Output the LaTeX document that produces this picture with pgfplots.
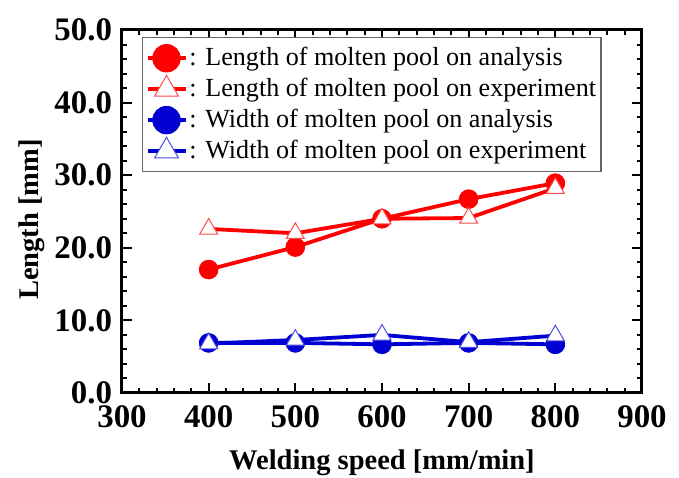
\documentclass[border=0pt]{standalone}
\usepackage{pgfplots}
\pgfplotsset{compat=1.18}
\usepackage{fontspec}
\setmainfont{Liberation Serif}
\usetikzlibrary{calc}
\definecolor{myred}{RGB}{255,0,0}
\definecolor{myblue}{RGB}{0,0,210}
\pgfplotstableread{
x la le wa we
400 17.0 22.6 6.9 6.8
500 20.1 22.0 6.9 7.3
600 24.0 24.0 6.7 8.0
700 26.7 24.1 6.9 7.0
800 28.9 28.2 6.7 7.9
}\data
\begin{document}
\begin{tikzpicture}
\begin{axis}[
  name=ax,
  scale only axis,
  width=260bp, height=181.5bp,
  xmin=300, xmax=900, ymin=0, ymax=50,
  xtick={300,400,...,900}, ytick={0,10,...,50},
  minor x tick num=4, minor y tick num=4,
  tick align=inside,
  major tick length=5bp, minor tick length=2.5bp,
  every tick/.style={black, line width=1bp},
  axis line style={line width=1.5bp},
  xticklabel style={font=\fontsize{16.5}{18}\selectfont\bfseries, yshift=-3bp},
  yticklabel style={font=\fontsize{16.5}{18}\selectfont\bfseries, xshift=-1.5bp},
  /pgf/number format/assume math mode=true,
  yticklabel={\pgfmathprintnumber[fixed,fixed zerofill,precision=1]{\tick}},
  xticklabel={\pgfmathprintnumber[fixed,precision=0]{\tick}},
  xlabel={Welding speed [mm/min]},
  ylabel={Length [mm]},
  xlabel style={font=\fontsize{14.3}{16}\selectfont\bfseries, yshift=-4bp},
  ylabel style={font=\fontsize{14.3}{16}\selectfont\bfseries, yshift=-2bp, xshift=-4bp},
  legend style={at={(0.0385,0.9807)}, anchor=north west, draw=black!60, line width=0.6bp,
    font=\fontsize{13.1}{15.5}\selectfont, row sep=0.8bp, inner xsep=1.5bp, inner ysep=3bp,
    nodes={inner xsep=1bp}},
  legend cell align=left,
  legend image code/.code={\draw[#1, mark repeat=2, mark phase=2, mark size=6.9bp]
    plot coordinates {(0bp,0bp) (9.5bp,0bp) (19bp,0bp)};},
]
\addplot[myred, line width=1.9bp, mark=*, mark size=4.7bp, mark options={solid, fill=myred, draw=myred, line width=0.4bp}] table[x=x,y=la]{\data};
\addlegendentry{: Length of molten pool on analysis}
\addplot[myred, line width=1.9bp, mark=triangle*, mark size=5.2bp, mark options={solid, fill=white, draw=myred!70, line width=0.5bp}] table[x=x,y=le]{\data};
\addlegendentry{: Length of molten pool on experiment}
\addplot[myblue, line width=1.9bp, mark=*, mark size=4.7bp, mark options={solid, fill=myblue, draw=myblue, line width=0.4bp}] table[x=x,y=wa]{\data};
\addlegendentry{: Width of molten pool on analysis}
\addplot[myblue, line width=1.9bp, mark=triangle*, mark size=5.2bp, mark options={solid, fill=white, draw=myblue!70, line width=0.5bp}] table[x=x,y=we]{\data};
\addlegendentry{: Width of molten pool on experiment}
\end{axis}
\pgfresetboundingbox
\path[use as bounding box] ($(ax.south west)+(-61bp,-42.5bp)$) rectangle ($(ax.north east)+(18.5bp,15bp)$);
\end{tikzpicture}
\end{document}
